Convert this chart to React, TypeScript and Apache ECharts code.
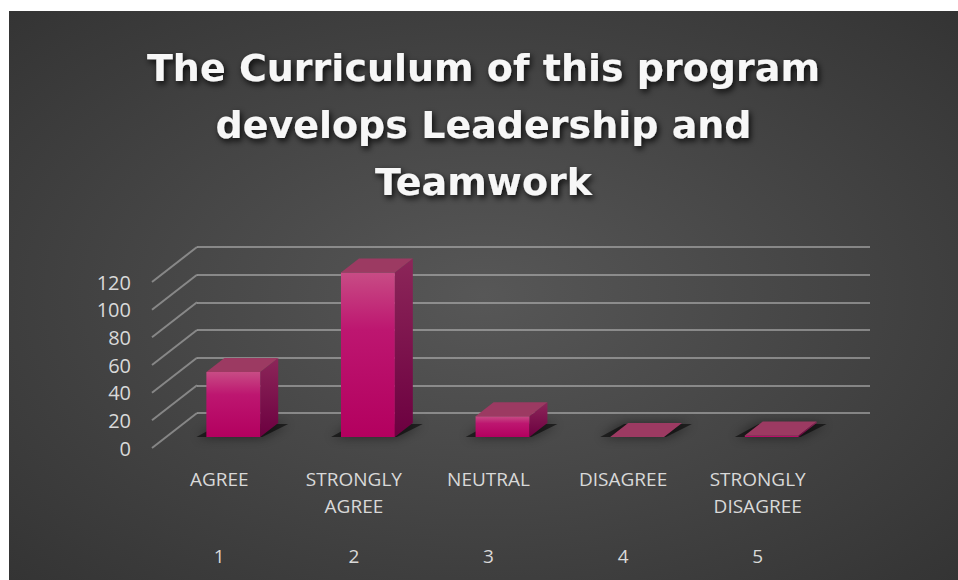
import React, { useEffect, useRef } from "react";
import * as echarts from "echarts";

const categories = ["AGREE", "STRONGLY\nAGREE", "NEUTRAL", "DISAGREE", "STRONGLY\nDISAGREE"];
const numbers = ["1", "2", "3", "4", "5"];
const values = [47, 119, 15, 0, 1];
const yTicks = [0, 20, 40, 60, 80, 100, 120];
const titleText = "The Curriculum of this program\ndevelops Leadership and\nTeamwork";

const FONT = "'Open Sans', 'Noto Sans', sans-serif";
const TITLE_FONT = "'DejaVu Sans', 'Open Sans', sans-serif";
// perspective offsets (px)
const WALL_DX = 45, WALL_DY = -35; // floor depth
const FACE_DX = 14, FACE_DY = -11; // bar front face position inside depth
const BAR_DX = 18, BAR_DY = -14;   // bar depth

export default function App() {
  const ref = useRef<HTMLDivElement>(null);
  useEffect(() => {
    const chart = echarts.init(ref.current!, null, { renderer: "svg" });
    const W = 949, H = 569;
    const option: any = {
      animation: false,
      graphic: [
        {
          type: "rect",
          z: -100,
          silent: true,
          shape: { x: 0, y: 0, width: W, height: H },
          style: {
            fill: new echarts.graphic.RadialGradient(0.5, 0.5, 1, [
              { offset: 0, color: "#575757" },
              { offset: 0.5, color: "#3e3e3e" },
              { offset: 0.85, color: "#2d2d2d" },
              { offset: 1, color: "#262626" },
            ]),
          },
        },
      ],
      title: {
        text: titleText,
        left: "center",
        top: 23,
        textStyle: {
          fontFamily: TITLE_FONT,
          fontWeight: "bold",
          fontSize: 38,
          lineHeight: 57,
          color: "#f7f7f7",
          textShadowColor: "rgba(0,0,0,0.85)",
          textShadowBlur: 6,
          textShadowOffsetX: 2,
          textShadowOffsetY: 3,
        },
      },
      grid: [
        { left: 143, top: 271, width: 673, height: 166 },
        { left: 143 + WALL_DX, top: 271 + WALL_DY, width: 673, height: 166 },
      ],
      xAxis: [
        {
          type: "category",
          gridIndex: 0,
          data: categories,
          axisLine: { show: false },
          axisTick: { show: false },
          axisLabel: {
            margin: 17,
            fontFamily: FONT,
            fontSize: 19,
            lineHeight: 27,
            color: "#d9d9d9",
          },
        },
        {
          type: "category",
          gridIndex: 0,
          position: "bottom",
          data: numbers,
          axisLine: { show: false },
          axisTick: { show: false },
          axisLabel: {
            margin: 94,
            fontFamily: FONT,
            fontSize: 19,
            lineHeight: 27,
            color: "#d9d9d9",
          },
        },
        {
          type: "category",
          gridIndex: 1,
          data: numbers,
          show: false,
        },
      ],
      yAxis: [
        {
          type: "value",
          gridIndex: 0,
          min: 0,
          max: 120,
          interval: 20,
          axisLine: { show: false },
          axisTick: { show: false },
          splitLine: { show: false },
          axisLabel: {
            margin: 21,
            fontFamily: FONT,
            fontSize: 20,
            color: "#d9d9d9",
          },
        },
        {
          type: "value",
          gridIndex: 1,
          min: 0,
          max: 120,
          interval: 20,
          axisLine: { show: false },
          axisTick: { show: false },
          axisLabel: { show: false },
          splitLine: { show: true, lineStyle: { color: "rgba(190,190,190,0.55)", width: 2 } },
        },
      ],
      series: [
        {
          type: "custom",
          name: "sidewall",
          xAxisIndex: 0,
          yAxisIndex: 0,
          silent: true,
          clip: false,
          data: yTicks.map((v) => [0, v]),
          renderItem: (params: any, api: any) => {
            const p = api.coord([api.value(0), api.value(1)]);
            const half = api.size([1, 0])[0] / 2;
            const x0 = p[0] - half;
            return {
              type: "line",
              shape: { x1: x0, y1: p[1], x2: x0 + WALL_DX, y2: p[1] + WALL_DY },
              style: { stroke: "rgba(190,190,190,0.55)", lineWidth: 2 },
            };
          },
        },
        {
          type: "custom",
          name: "bars",
          xAxisIndex: 0,
          yAxisIndex: 0,
          clip: false,
          data: values.map((v, i) => [i, v]),
          renderItem: (params: any, api: any) => {
            const base = api.coord([api.value(0), 0]);
            const top = api.coord([api.value(0), api.value(1)]);
            const bw = api.size([1, 0])[0] * 0.4;
            const xL = base[0] - bw / 2 + FACE_DX;
            const xR = xL + bw;
            const yB = base[1] + FACE_DY;
            const yT = top[1] + FACE_DY;
            return {
              type: "group",
              children: [
                {
                  type: "polygon",
                  shape: {
                    points: [
                      [xL - 10, yB],
                      [xR + 2, yB],
                      [xR + BAR_DX + 10, yB + BAR_DY + 1],
                      [xL + BAR_DX - 4, yB + BAR_DY + 1],
                    ],
                  },
                  style: {
                    fill: "rgba(0,0,0,0.55)",
                    shadowBlur: 12,
                    shadowColor: "rgba(0,0,0,0.95)",
                  },
                },
                {
                  type: "polygon",
                  shape: { points: [[xR, yT], [xR + BAR_DX, yT + BAR_DY], [xR + BAR_DX, yB + BAR_DY], [xR, yB]] },
                  style: {
                    fill: new echarts.graphic.LinearGradient(0, 0, 0, 1, [
                      { offset: 0, color: "#8c2659" },
                      { offset: 1, color: "#6c0040" },
                    ]),
                  },
                },
                {
                  type: "polygon",
                  shape: { points: [[xL, yT], [xR, yT], [xR, yB], [xL, yB]] },
                  style: {
                    fill: new echarts.graphic.LinearGradient(0, 0, 0, 1, [
                      { offset: 0, color: "#c84c85" },
                      { offset: 0.35, color: "#bd1670" },
                      { offset: 1, color: "#b3005f" },
                    ]),
                  },
                },
                {
                  type: "polygon",
                  shape: { points: [[xL, yT], [xL + BAR_DX, yT + BAR_DY], [xR + BAR_DX, yT + BAR_DY], [xR, yT]] },
                  style: { fill: "#9c3a62" },
                },
              ],
            };
          },
        },
      ],
    };
    chart.setOption(option);
    return () => chart.dispose();
  }, []);
  return (
    <div
      ref={ref}
      style={{ position: "absolute", left: 9, top: 11, width: 949, height: 569 }}
    />
  );
}
